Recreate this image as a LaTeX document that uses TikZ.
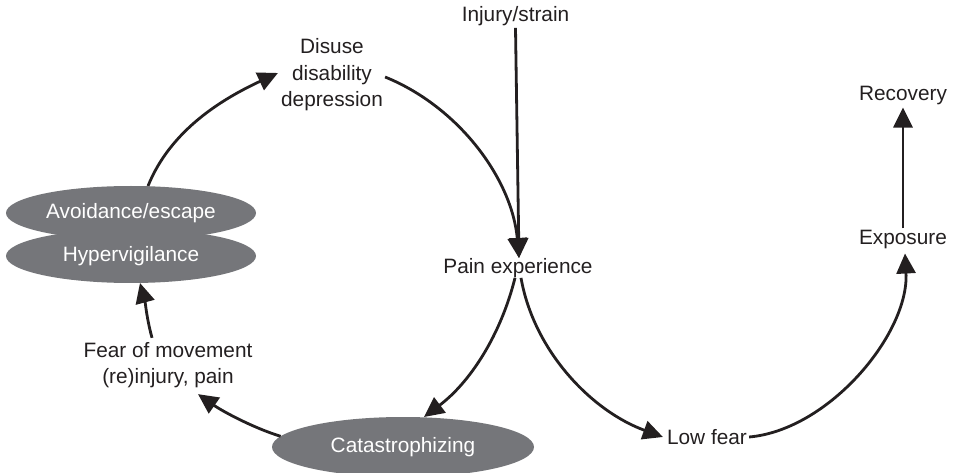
\documentclass[tikz,border=0pt]{standalone}
\usepackage{fontspec}
\setmainfont{Liberation Sans}
\usetikzlibrary{arrows.meta,shapes.geometric}
\definecolor{ink}{HTML}{231F20}
\definecolor{blob}{HTML}{75767A}
\begin{document}
\begin{tikzpicture}[x=1pt,y=1pt,
  every node/.style={font=\fontsize{20.8}{26.5}\selectfont, text=ink},
  label/.style={align=center, inner sep=2pt},
  blobnode/.style={ellipse, fill=blob, text=white, inner sep=0pt, outer sep=0pt},
  link/.style={draw=ink, line width=2.8pt, -{Triangle[length=20pt,width=19pt]}}]
\useasboundingbox (0,0) rectangle (954,472);

% text labels
\node[label] (injury)   at (515.5,456) {Injury/strain};
\node[label] (disuse)   at (332,397) {Disuse\\disability\\depression};
\node[label] (pain)     at (518,204) {Pain experience};
\node[label] (recovery) at (903,376) {Recovery};
\node[label] (exposure) at (903,232) {Exposure};
\node[label] (lowfear)  at (707,35)  {Low fear};
\node[label] (fear)     at (168,107) {Fear of movement\\(re)injury, pain};

% grey ellipses
\node[blobnode, minimum width=250, minimum height=54] (avoid) at (131,259) {Avoidance/escape};
\node[blobnode, minimum width=250, minimum height=54] (hyper) at (131,216) {Hypervigilance};
\node[blobnode, minimum width=262, minimum height=60] (cat)   at (403,25)  {Catastrophizing};

% connectors
\draw[link] (injury.south) -- ([xshift=1pt,yshift=-2pt]pain.north);
\draw[link] ([yshift=-2pt]disuse.east) to[out=-22, in=95, looseness=0.9] ([xshift=1pt,yshift=-2pt]pain.north);
\draw[link] ([xshift=17pt]avoid.north) to[out=68, in=205, looseness=0.9] ([xshift=-1pt,yshift=2pt]disuse.west);
\draw[link] ([xshift=-16pt,yshift=2pt]fear.north) to[out=105, in=-75] ([xshift=9pt]hyper.south);
\draw[link] (cat.175) to[out=163, in=-35, looseness=0.8] ([xshift=30pt,yshift=-4pt]fear.south);
\draw[link] ([xshift=-3pt,yshift=2pt]pain.south) to[out=-104, in=37, looseness=0.9] ([xshift=21pt]cat.north);
\draw[link] ([xshift=3pt,yshift=2pt]pain.south) to[out=-80, in=160, looseness=0.9] ([xshift=-2pt]lowfear.west);
\draw[link] (lowfear.east) to[out=5, in=-87, looseness=0.85] ([xshift=2pt,yshift=-2pt]exposure.south);
\draw[link] (exposure.north) -- (recovery.south);
\end{tikzpicture}
\end{document}
